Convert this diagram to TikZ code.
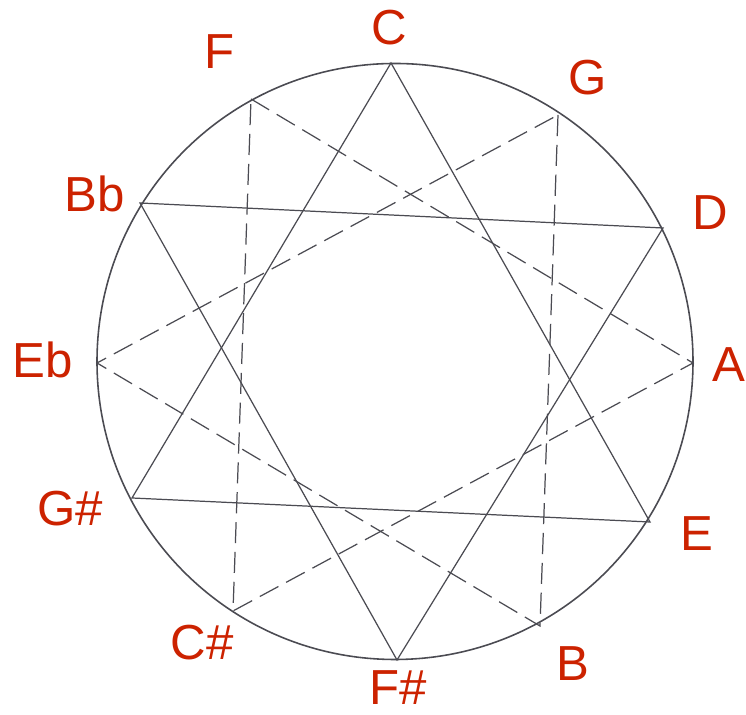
\documentclass[tikz,border=0pt]{standalone}
\usepackage{fontspec}
\setmainfont{Liberation Sans}
\usepackage{xcolor}
\usepackage{tikz}
\usetikzlibrary{backgrounds}
\pgfdeclarelayer{edgelayer}
\pgfdeclarelayer{nodelayer}
\pgfsetlayers{background,edgelayer,nodelayer,main}
\definecolor{notered}{RGB}{204,34,0}
\definecolor{pencil}{RGB}{75,75,82}
\tikzstyle{none}=[inner sep=0mm]
\tikzstyle{note}=[inner sep=0mm,text=notered,font=\fontsize{28}{32}\selectfont]
\tikzstyle{rim}=[draw=pencil,line width=0.9pt]
\tikzstyle{solidedge}=[draw=pencil,line width=0.7pt]
\tikzstyle{dashedge}=[draw=pencil,line width=0.7pt,dash pattern=on 12pt off 5pt]

\begin{document}
\begin{tikzpicture}
	\useasboundingbox (0,0) rectangle (14.92,14.30);
	\begin{pgfonlayer}{nodelayer}
		% points on the circle
		\node [style=none] (o) at (7.90, 7.07) {};
		\node [style=none] (C) at (7.82, 13.04) {};
		\node [style=none] (G) at (11.16, 12.00) {};
		\node [style=none] (D) at (13.26, 9.74) {};
		\node [style=none] (A) at (13.86, 7.04) {};
		\node [style=none] (E) at (13.00, 3.86) {};
		\node [style=none] (B) at (10.80, 1.78) {};
		\node [style=none] (Fs) at (7.94, 1.10) {};
		\node [style=none] (Cs) at (4.66, 2.08) {};
		\node [style=none] (Gs) at (2.64, 4.34) {};
		\node [style=none] (Eb) at (1.94, 7.04) {};
		\node [style=none] (Bb) at (2.80, 10.24) {};
		\node [style=none] (F) at (5.02, 12.32) {};
		% note names
		\node [style=note] (lC) at (7.78, 13.74) {C};
		\node [style=note] (lG) at (11.76, 12.74) {G};
		\node [style=note] (lD) at (14.20, 10.04) {D};
		\node [style=note] (lA) at (14.58, 7.00) {A};
		\node [style=note] (lE) at (13.94, 3.62) {E};
		\node [style=note] (lB) at (11.46, 1.02) {B};
		\node [style=note] (lFs) at (7.96, 0.54) {F\#};
		\node [style=note] (lCs) at (4.04, 1.44) {C\#};
		\node [style=note] (lGs) at (1.40, 4.12) {G\#};
		\node [style=note] (lEb) at (0.86, 7.10) {Eb};
		\node [style=note] (lBb) at (1.90, 10.42) {Bb};
		\node [style=note] (lF) at (4.40, 13.26) {F};
	\end{pgfonlayer}
	\begin{pgfonlayer}{edgelayer}
		\draw [style=rim] (o.center) circle (5.96);
		% solid triangles
		\draw [style=solidedge] (C.center) -- (E.center) -- (Gs.center) -- cycle;
		\draw [style=solidedge] (Bb.center) -- (D.center) -- (Fs.center) -- cycle;
		% dashed triangles
		\draw [style=dashedge] (F.center) -- (A.center) -- (Cs.center) -- cycle;
		\draw [style=dashedge] (G.center) -- (B.center) -- (Eb.center) -- cycle;
	\end{pgfonlayer}
\end{tikzpicture}
\end{document}
